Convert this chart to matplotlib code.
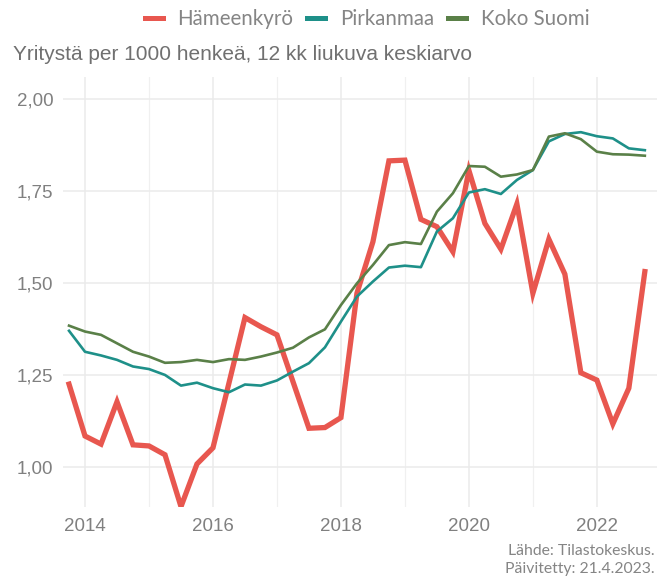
import matplotlib
matplotlib.use('Agg')
import matplotlib.pyplot as plt
from matplotlib.ticker import FuncFormatter, MultipleLocator
import numpy as np
import pandas as pd

# quarters, 12 month moving average
quarters = pd.period_range('2013Q4', '2022Q4', freq='Q')

hameenkyro = [1.225, 1.084, 1.062, 1.177, 1.060, 1.057, 1.033, 0.892, 1.008, 1.052,
              1.228, 1.406, 1.381, 1.359, 1.232, 1.105, 1.107, 1.134, 1.472, 1.612,
              1.832, 1.834, 1.673, 1.653, 1.585, 1.806, 1.662, 1.592, 1.715, 1.472,
              1.619, 1.524, 1.256, 1.236, 1.117, 1.214, 1.531]

pirkanmaa = [1.370, 1.313, 1.303, 1.291, 1.273, 1.266, 1.250, 1.221, 1.229, 1.214,
             1.203, 1.224, 1.221, 1.235, 1.259, 1.282, 1.325, 1.395, 1.463, 1.504,
             1.542, 1.547, 1.543, 1.640, 1.676, 1.746, 1.755, 1.742, 1.780, 1.807,
             1.885, 1.905, 1.910, 1.899, 1.893, 1.866, 1.861]

koko_suomi = [1.384, 1.368, 1.359, 1.336, 1.313, 1.300, 1.283, 1.285, 1.291, 1.285,
              1.293, 1.291, 1.300, 1.311, 1.324, 1.352, 1.374, 1.440, 1.499, 1.549,
              1.603, 1.611, 1.606, 1.694, 1.744, 1.818, 1.816, 1.789, 1.795, 1.807,
              1.898, 1.907, 1.891, 1.857, 1.850, 1.849, 1.846]

labels = ['Hämeenkyrö', 'Pirkanmaa', 'Koko Suomi']
colors = ['#e8574f', '#1e9089', '#5a8048']

x = np.array([q.year + (q.quarter - 1) / 4 for q in quarters])

W, H = 665, 581
fig = plt.figure(figsize=(W / 100, H / 100), dpi=100)
ax = fig.add_axes([63 / W, (H - 507) / H, (657 - 63) / W, (507 - 77) / H])

ax.plot(x, hameenkyro, color=colors[0], lw=3.8, solid_joinstyle='miter', label=labels[0], zorder=3)
ax.plot(x, pirkanmaa, color=colors[1], lw=1.9, label=labels[1], zorder=4)
ax.plot(x, koko_suomi, color=colors[2], lw=1.9, label=labels[2], zorder=4)

ax.set_xlim(2013.656, 2022.94)
ax.set_ylim(0.891, 2.06)
ax.xaxis.set_major_locator(MultipleLocator(2))
ax.xaxis.set_minor_locator(MultipleLocator(1))
ax.yaxis.set_major_locator(MultipleLocator(0.25))
ax.yaxis.set_major_formatter(FuncFormatter(lambda v, p: f'{v:.2f}'.replace('.', ',')))
ax.xaxis.set_major_formatter(FuncFormatter(lambda v, p: f'{int(v)}'))

ax.grid(True, which='major', color='#ebebeb', lw=1.1)
ax.grid(True, which='minor', axis='x', color='#f0f0f0', lw=0.9)
ax.set_axisbelow(True)
for s in ax.spines.values():
    s.set_visible(False)
ax.tick_params(which='both', length=0)
ax.tick_params(axis='y', pad=7, labelsize=13.5, labelcolor='#808080')
ax.tick_params(axis='x', pad=8, labelsize=13.5, labelcolor='#808080')
for t in ax.get_xticklabels() + ax.get_yticklabels():
    t.set_fontfamily('Liberation Sans')

fig.text(13 / W, 1 - 59.5 / H, 'Yritystä per 1000 henkeä, 12 kk liukuva keskiarvo',
         fontsize=15, color='#707070', family='Liberation Sans', va='baseline', ha='left')

leg = fig.legend(loc='center', bbox_to_anchor=(367 / W, 1 - 19 / H), ncol=3, frameon=False,
                 handlelength=0.88, handletextpad=0.7, columnspacing=0.7,
                 prop={'family': 'Lato', 'size': 14.8})
for h in leg.get_lines():
    h.set_linewidth(3.6)
for t in leg.get_texts():
    t.set_color('#858585')

fig.text(655 / W, 1 - 551 / H, 'Lähde: Tilastokeskus.', ha='right', va='center',
         fontsize=11.3, color='#858585', family='Lato')
fig.text(655 / W, 1 - 569 / H, 'Päivitetty: 21.4.2023.', ha='right', va='center',
         fontsize=11.3, color='#858585', family='Lato')

fig.savefig('out.png', dpi=100)
